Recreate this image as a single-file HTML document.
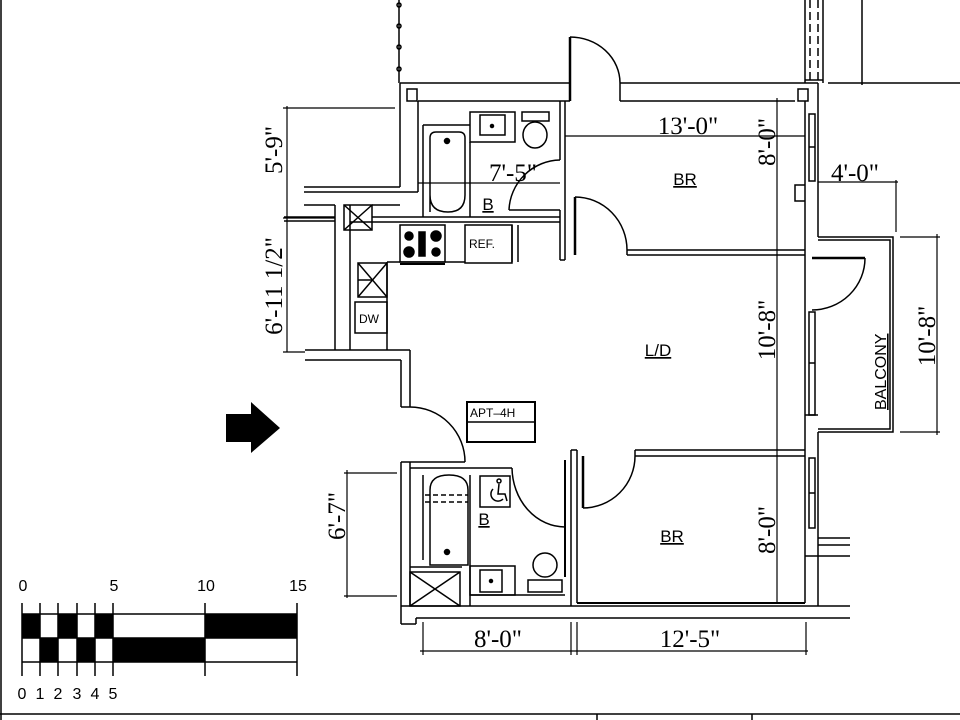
<!DOCTYPE html>
<html><head><meta charset="utf-8"><style>
html,body{margin:0;padding:0;background:#fff}
svg{display:block}
.d{font-family:"Liberation Serif",serif;font-size:25px;fill:#000}
.s{font-family:"Liberation Sans",sans-serif;fill:#000}
</style></head><body>
<svg width="960" height="720" viewBox="0 0 960 720" xmlns="http://www.w3.org/2000/svg">
<g fill="none" stroke="#000" stroke-width="1.5">
<line x1="1" y1="0" x2="1" y2="720"/>
<line x1="0" y1="714" x2="960" y2="714"/>
<line x1="597" y1="714" x2="597" y2="720"/>
<line x1="752" y1="714" x2="752" y2="720"/>

<line x1="399" y1="0" x2="399" y2="83"/>
<circle cx="399" cy="5" r="2"/><circle cx="399" cy="26" r="2"/><circle cx="399" cy="47" r="2"/><circle cx="399" cy="69" r="2"/>
<line x1="805" y1="0" x2="805" y2="83"/>
<line x1="823" y1="0" x2="823" y2="83"/>
<line x1="810" y1="0" x2="810" y2="80" stroke-dasharray="8,4"/>
<line x1="818" y1="0" x2="818" y2="80" stroke-dasharray="8,4"/>
<line x1="805" y1="80" x2="823" y2="80"/>
<line x1="862" y1="0" x2="862" y2="85"/>
<line x1="828" y1="83" x2="960" y2="83"/>

<line x1="400" y1="83" x2="570" y2="83"/>
<line x1="620" y1="83" x2="818" y2="83"/>
<line x1="418" y1="101" x2="570" y2="101"/>
<line x1="620" y1="101" x2="795" y2="101"/>
<line x1="400" y1="83" x2="400" y2="187"/>
<line x1="418" y1="101" x2="418" y2="192"/>
<rect x="407" y="89" width="10" height="12"/>
<rect x="798" y="89" width="10" height="12"/>
<line x1="570" y1="37" x2="570" y2="101" stroke-width="2.5"/>
<path d="M570 37 A50 46 0 0 1 620 83"/>
<line x1="620" y1="83" x2="620" y2="101"/>

<line x1="304" y1="187" x2="400" y2="187"/>
<line x1="304" y1="192" x2="418" y2="192"/>
<line x1="304" y1="205" x2="335" y2="205"/>
<line x1="284" y1="217" x2="335" y2="217"/>
<line x1="284" y1="221" x2="335" y2="221"/>
<line x1="335" y1="205" x2="335" y2="350"/>
<line x1="350" y1="205" x2="350" y2="350"/>
<line x1="372" y1="217" x2="560" y2="217"/>
<line x1="350" y1="222" x2="560" y2="222"/>
<rect x="344" y="205" width="28" height="25"/>
<line x1="344" y1="205" x2="372" y2="230"/><line x1="372" y1="205" x2="344" y2="230"/>
<line x1="305" y1="350" x2="410" y2="350"/>
<line x1="305" y1="360" x2="401" y2="360"/>
<line x1="410" y1="350" x2="410" y2="407"/>
<line x1="401" y1="360" x2="401" y2="407"/>
<line x1="410" y1="407" x2="401" y2="407"/>

<line x1="387" y1="262" x2="387" y2="350"/>
<line x1="387" y1="262" x2="465" y2="262"/>
<rect x="400" y="225" width="45" height="37"/>
<line x1="400" y1="264" x2="445" y2="264" stroke-width="2"/>
<circle cx="409" cy="236" r="4" fill="#000"/><circle cx="409" cy="252" r="5" fill="#000"/>
<circle cx="436" cy="236" r="5" fill="#000"/><circle cx="436" cy="252" r="4" fill="#000"/>
<rect x="419" y="232" width="6" height="24" fill="#000"/>
<rect x="465" y="225" width="47" height="38"/>
<line x1="512" y1="225" x2="512" y2="262"/><line x1="518" y1="225" x2="518" y2="262"/>
<rect x="358" y="263" width="29" height="34"/>
<line x1="358" y1="263" x2="387" y2="297"/><line x1="387" y1="263" x2="358" y2="297"/>
<line x1="358" y1="280" x2="372" y2="280"/>
<rect x="355" y="302" width="32" height="31"/>

<line x1="560" y1="101" x2="560" y2="160"/>
<line x1="560" y1="210" x2="560" y2="260"/>
<line x1="565" y1="101" x2="565" y2="260"/>
<line x1="560" y1="260" x2="565" y2="260"/>
<line x1="423" y1="125" x2="470" y2="125"/>
<line x1="423" y1="125" x2="423" y2="217"/>
<path d="M430 212 L430 138 Q430 132 436 132 L459 132 Q465 132 465 138 L465 195 Q465 212 448 212 Q430 212 430 195 Z"/>
<circle cx="447" cy="141" r="2.5" fill="#000"/>
<rect x="470" y="112" width="45" height="30"/>
<rect x="480" y="115" width="25" height="20"/>
<circle cx="492" cy="126" r="1.5" fill="#000"/>
<rect x="522" y="112" width="27" height="9"/>
<ellipse cx="535" cy="135" rx="12" ry="13"/>
<line x1="470" y1="142" x2="470" y2="217"/>
<path d="M509 210 A52 52 0 0 1 560 160"/>
<line x1="509" y1="210" x2="560" y2="210"/>
<line x1="372" y1="205" x2="400" y2="205"/>

<line x1="575" y1="197" x2="575" y2="255" stroke-width="2.5"/>
<path d="M575 197 A52 53 0 0 1 627 250"/>
<line x1="627" y1="250" x2="805" y2="250"/>
<line x1="627" y1="255" x2="805" y2="255"/>
<line x1="627" y1="250" x2="627" y2="255"/>

<line x1="805" y1="101" x2="805" y2="603"/>
<line x1="818" y1="83" x2="818" y2="237"/>
<line x1="818" y1="432" x2="818" y2="606"/>
<rect x="809" y="114" width="6" height="67"/>
<line x1="809" y1="147" x2="815" y2="147"/>
<path d="M805 185 L795 185 L795 201 L805 201"/>
<path d="M818 237 L893 237 L893 432 L818 432"/>
<path d="M818 240 L890 240 L890 429 L818 429"/>
<line x1="812" y1="258" x2="865" y2="258" stroke-width="2.5"/>
<path d="M865 258 A53 52 0 0 1 812 310"/>
<rect x="809" y="312" width="6" height="103"/>
<line x1="809" y1="363" x2="815" y2="363"/>
<line x1="805" y1="415" x2="818" y2="415"/>

<line x1="635" y1="450" x2="805" y2="450"/>
<line x1="635" y1="456" x2="805" y2="456"/>
<line x1="635" y1="450" x2="635" y2="456"/>
<line x1="583" y1="456" x2="583" y2="508" stroke-width="2.5"/>
<path d="M583 508 A52 52 0 0 0 635 456"/>
<line x1="571" y1="450" x2="571" y2="606"/>
<line x1="577" y1="450" x2="577" y2="603"/>
<line x1="571" y1="450" x2="577" y2="450"/>
<line x1="577" y1="603" x2="805" y2="603" stroke-width="2"/>
<rect x="809" y="458" width="6" height="70"/>
<line x1="809" y1="493" x2="815" y2="493"/>
<line x1="818" y1="538" x2="850" y2="538"/>
<line x1="818" y1="545" x2="850" y2="545"/>
<line x1="805" y1="556" x2="850" y2="556"/>

<line x1="401" y1="606" x2="850" y2="606"/>
<line x1="416" y1="618" x2="850" y2="618"/>
<line x1="401" y1="624" x2="416" y2="624"/>
<line x1="416" y1="618" x2="416" y2="624"/>

<path d="M410 407 A55 55 0 0 1 465 462"/>
<line x1="401" y1="462" x2="401" y2="624"/>
<line x1="410" y1="462" x2="410" y2="606"/>
<line x1="401" y1="462" x2="465" y2="462"/>
<line x1="410" y1="468" x2="512" y2="468"/>
<line x1="423" y1="475" x2="423" y2="560"/>
<path d="M430 565 L430 490 Q430 475 449 475 Q468 475 468 490 L468 565 Z"/>
<line x1="425" y1="495" x2="468" y2="495" stroke-dasharray="5,3"/>
<line x1="425" y1="502" x2="468" y2="502" stroke-dasharray="5,3"/>
<circle cx="447" cy="552" r="2.5" fill="#000"/>
<line x1="470" y1="475" x2="470" y2="606"/>
<rect x="480" y="476" width="30" height="31"/>
<circle cx="499" cy="481" r="2"/>
<path d="M499 484 L498 494 L505 494 L507 501"/>
<path d="M493 489 A7 7 0 1 0 503 499"/>
<line x1="410" y1="567" x2="462" y2="567"/>
<rect x="410" y="572" width="50" height="34"/>
<line x1="410" y1="572" x2="460" y2="606"/><line x1="460" y1="572" x2="410" y2="606"/>
<line x1="470" y1="595" x2="565" y2="595"/>
<rect x="470" y="566" width="45" height="29"/>
<rect x="480" y="570" width="22" height="22"/>
<circle cx="491" cy="581" r="1.5" fill="#000"/>
<ellipse cx="545" cy="565" rx="12" ry="12"/>
<rect x="528" y="580" width="34" height="12"/>
<path d="M512 468 A53 60 0 0 0 565 527"/>
<line x1="565" y1="460" x2="565" y2="577" stroke-width="2"/>

<rect x="467" y="402" width="68" height="40" stroke-width="2"/>
<line x1="467" y1="422" x2="535" y2="422"/>

<g stroke-width="1.2">
<line x1="287" y1="106" x2="287" y2="352"/>
<line x1="283" y1="108" x2="395" y2="108"/>
<line x1="283" y1="218" x2="335" y2="218"/>
<line x1="283" y1="352" x2="305" y2="352"/>
<line x1="418" y1="183" x2="560" y2="183"/>
<line x1="565" y1="136" x2="805" y2="136"/>
<line x1="777" y1="98" x2="777" y2="603"/>
<line x1="818" y1="182" x2="898" y2="182"/>
<line x1="896" y1="180" x2="896" y2="232"/>
<line x1="900" y1="237" x2="940" y2="237"/>
<line x1="900" y1="432" x2="940" y2="432"/>
<line x1="937" y1="234" x2="937" y2="435"/>
<line x1="347" y1="470" x2="347" y2="598"/>
<line x1="344" y1="473" x2="397" y2="473"/>
<line x1="344" y1="596" x2="397" y2="596"/>
<line x1="420" y1="651" x2="808" y2="651"/>
<line x1="423" y1="622" x2="423" y2="655"/>
<line x1="571" y1="622" x2="571" y2="655"/>
<line x1="577" y1="622" x2="577" y2="655"/>
<line x1="806" y1="622" x2="806" y2="655"/>
</g>

<polygon points="226,414 251,414 251,402 280,428 251,453 251,442 226,442" fill="#000" stroke="none"/>

<g stroke-width="1.5">
<line x1="22" y1="603" x2="22" y2="676"/>
<line x1="40" y1="603" x2="40" y2="676"/>
<line x1="58" y1="603" x2="58" y2="676"/>
<line x1="77" y1="603" x2="77" y2="676"/>
<line x1="95" y1="603" x2="95" y2="676"/>
<line x1="113" y1="603" x2="113" y2="676"/>
<line x1="205" y1="603" x2="205" y2="676"/>
<line x1="297" y1="603" x2="297" y2="676"/>
<line x1="22" y1="614" x2="297" y2="614"/>
<line x1="22" y1="638" x2="297" y2="638"/>
<line x1="22" y1="662" x2="297" y2="662"/>
</g>
</g>
<g fill="#000">
<rect x="22" y="614" width="18" height="24"/><rect x="58" y="614" width="19" height="24"/><rect x="95" y="614" width="18" height="24"/><rect x="205" y="614" width="92" height="24"/>
<rect x="40" y="638" width="18" height="24"/><rect x="77" y="638" width="18" height="24"/><rect x="113" y="638" width="92" height="24"/>
</g>
<g class="s" font-size="16" text-anchor="middle">
<text x="23" y="591">0</text><text x="114" y="591">5</text><text x="206" y="591">10</text><text x="298" y="591">15</text>
<text x="22" y="699">0</text><text x="40" y="699">1</text><text x="58" y="699">2</text><text x="77" y="699">3</text><text x="95" y="699">4</text><text x="113" y="699">5</text>
</g>

<g class="s" font-size="17" text-anchor="middle" text-decoration="underline">
<text x="685" y="185">BR</text>
<text x="672" y="542">BR</text>
<text x="658" y="356">L/D</text>
<text x="488" y="210">B</text>
<text x="484" y="525">B</text>
</g>
<g class="s" font-size="12">
<text x="469" y="248">REF.</text>
<text x="359" y="323">DW</text>
<text x="470" y="417">APT–4H</text>
</g>
<text class="s" font-size="16" transform="translate(886,410) rotate(-90)" text-decoration="underline">BALCONY</text>

<g class="d" text-anchor="middle">
<text x="688" y="134">13'-0"</text>
<text x="513" y="181">7'-5"</text>
<text x="855" y="181">4'-0"</text>
<text x="498" y="647">8'-0"</text>
<text x="690" y="647">12'-5"</text>
<text transform="translate(775,142) rotate(-90)">8'-0"</text>
<text transform="translate(775,330) rotate(-90)">10'-8"</text>
<text transform="translate(775,530) rotate(-90)">8'-0"</text>
<text transform="translate(935,336) rotate(-90)">10'-8"</text>
<text transform="translate(282,150) rotate(-90)">5'-9"</text>
<text transform="translate(282,286) rotate(-90)">6'-11 1/2"</text>
<text transform="translate(345,516) rotate(-90)">6'-7"</text>
</g>
</svg>
</body></html>
